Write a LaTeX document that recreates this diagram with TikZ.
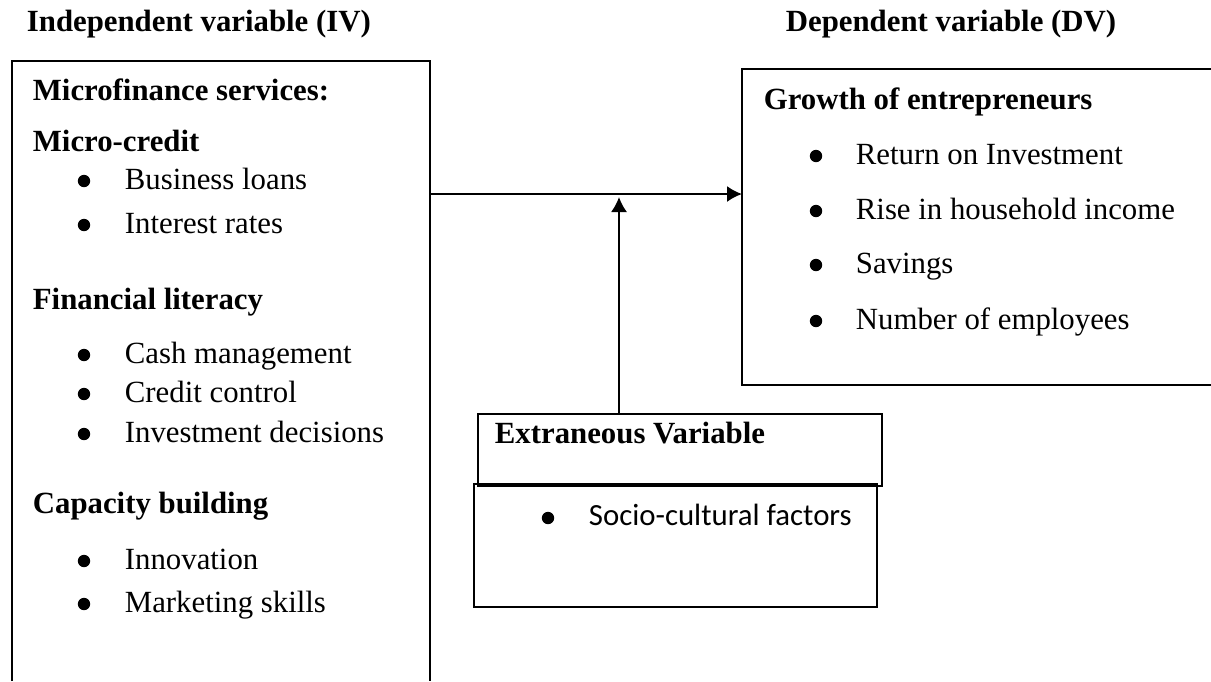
\documentclass[tikz,border=0pt]{standalone}
\usepackage{fontspec}
\setmainfont{Liberation Serif}
\newfontfamily\calfont{Carlito}
\usetikzlibrary{positioning,arrows.meta}

\begin{document}
\begin{tikzpicture}[x=0.5pt, y=-0.5pt, line width=0.9pt,
  >={Latex[length=7.5pt,width=8pt]},
  head/.style={anchor=base west, inner sep=0pt, font=\bfseries\fontsize{15.4}{17}\selectfont},
  item/.style={anchor=base west, inner sep=0pt, font=\fontsize{15.4}{17}\selectfont},
  dot/.style={circle, fill, inner sep=0pt, minimum size=6.2pt, yshift=4pt}]
\useasboundingbox (0,0) rectangle (1211,681);
\draw (26,31) node[head] (ivtitle) {Independent variable (IV)};
\draw (785,31) node[head] (dvtitle) {Dependent variable (DV)};
% boxes
\draw (12,681) -- (12,61) -- (430,61) -- (430,681);
\draw (1211,69) -- (742,69) -- (742,385) -- (1211,385);
\draw (478,414) rectangle (882,486);
\draw (474,484) rectangle (877,607);
\coordinate (ivout) at (430,194);
\coordinate (dvin) at (742,194);
\coordinate (exttop) at (619,414);
\coordinate (join) at (619,197);
% independent variable
\draw (32,100) node[head] (mfs) {Microfinance services:};
\draw (32,151) node[head] (mc) {Micro-credit};
\draw (84,189) node[dot] {};
\draw (124,189) node[item] (loans) {Business loans};
\draw (84,233) node[dot] {};
\draw (124,233) node[item] (rates) {Interest rates};
\draw (32,309) node[head] (fl) {Financial literacy};
\draw (84,363) node[dot] {};
\draw (124,363) node[item] (cash) {Cash management};
\draw (84,402) node[dot] {};
\draw (124,402) node[item] (credit) {Credit control};
\draw (84,442) node[dot] {};
\draw (124,442) node[item] (invest) {Investment decisions};
\draw (32,513) node[head] (cb) {Capacity building};
\draw (84,569) node[dot] {};
\draw (124,569) node[item] (innov) {Innovation};
\draw (84,612) node[dot] {};
\draw (124,612) node[item] (mkt) {Marketing skills};
% dependent variable
\draw (763,109) node[head] (growth) {Growth of entrepreneurs};
\draw (816,164) node[dot] {};
\draw (855,164) node[item] (roi) {Return on Investment};
\draw (816,219) node[dot] {};
\draw (855,219) node[item] (income) {Rise in household income};
\draw (816,273) node[dot] {};
\draw (855,273) node[item] (sav) {Savings};
\draw (816,329) node[dot] {};
\draw (855,329) node[item] (emp) {Number of employees};
% extraneous variable
\draw (494,443) node[head] (ext) {Extraneous Variable};
\draw (548,525) node[dot, yshift=-0.5pt] {};
\draw (588,525) node[item, font=\calfont\fontsize{15.4}{17}\selectfont] (socio) {Socio-cultural factors};
% arrows
\draw[->] (ivout) -- (dvin);
\draw[->] (exttop) -- (join);
\end{tikzpicture}
\end{document}
